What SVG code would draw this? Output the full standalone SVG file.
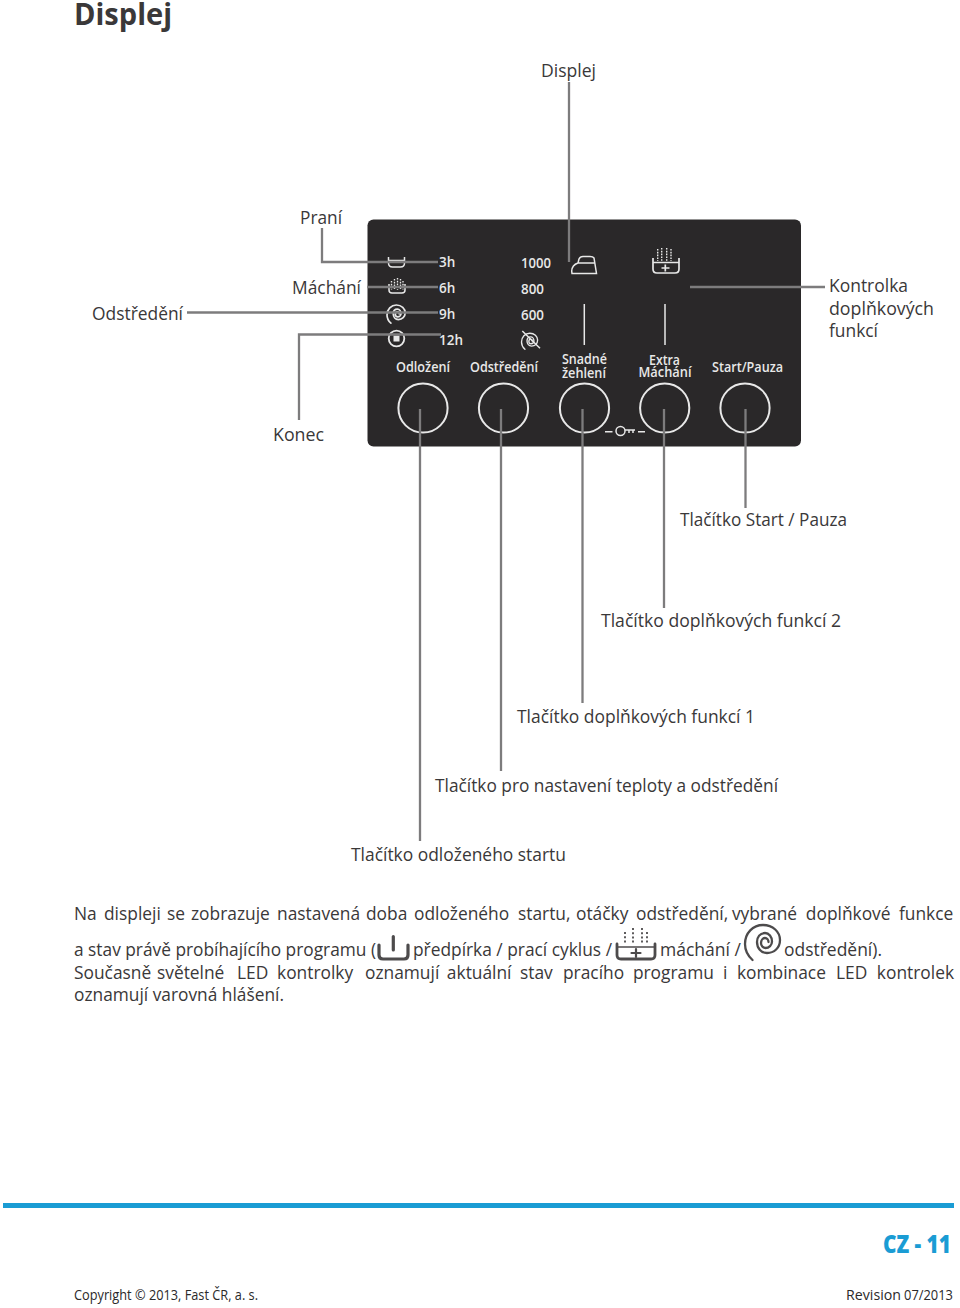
<svg xmlns="http://www.w3.org/2000/svg" width="960" height="1308" viewBox="0 0 960 1308">
<style>
text{font-family:"Open Sans","Noto Sans","Liberation Sans",sans-serif;fill:#3a3839}
.l,.b{font-size:18px}
.p{font-weight:600;font-size:13.5px;fill:#e8e8e8}
.c{fill:none;stroke:#7d7c7d;stroke-width:2.3}
.w{fill:none;stroke:#e8e8e8;stroke-width:1.5}
.o{stroke-width:2}
.ib{fill:none;stroke:#4d4b4c;stroke-width:3.2;stroke-linecap:round}
.d{stroke-dasharray:2 2.2;stroke-width:1.8;stroke-linecap:butt}
.dw{stroke-dasharray:1.6 1.2;stroke-linecap:butt;stroke-width:1.4}
.f{font-size:14.5px;fill:#2b2a2a}
</style>
<defs>
<path id="spiral" fill="none" stroke-linecap="round" d="M752.500 960C747 955 745 950 745 944C745 933 753 925 763 925C773 925 780 932 780 940C780 948 774 953 767 953C761 953 757 948 757 942C757 937 760 933 765 933C769 933 772 937 772 941.500C772 945 769 948 765.500 948C763 948 761 945.500 761 943C761 940 763 938 765 938C767 938 768.500 940 768.500 942"/>
</defs>
<rect width="960" height="1308" fill="#fff"/>
<text id="title" x="74" y="25" font-size="30" font-weight="700" textLength="98" lengthAdjust="spacingAndGlyphs">Displej</text>
<g id="panel">
<rect x="367.500" y="219.500" width="433.500" height="227" rx="6" fill="#2a2829"/>
<circle cx="423" cy="408" r="24.600" class="w o"/>
<circle cx="503.500" cy="408" r="24.600" class="w o"/>
<circle cx="584.500" cy="408" r="24.600" class="w o"/>
<circle cx="664.700" cy="408" r="24.600" class="w o"/>
<circle cx="745" cy="408" r="24.600" class="w o"/>
<line x1="584.300" y1="304" x2="584.300" y2="345" class="w"/>
<line x1="665" y1="304" x2="665" y2="345" class="w"/>
<text class="p" x="439" y="267">3h</text>
<text class="p" x="439" y="293">6h</text>
<text class="p" x="439" y="319">9h</text>
<text class="p" x="439" y="345">12h</text>
<text class="p" x="521" y="268" textLength="30" lengthAdjust="spacingAndGlyphs">1000</text>
<text class="p" x="521" y="294" textLength="23" lengthAdjust="spacingAndGlyphs">800</text>
<text class="p" x="521" y="320" textLength="23" lengthAdjust="spacingAndGlyphs">600</text>
<text class="p" x="396" y="372" textLength="54" lengthAdjust="spacingAndGlyphs">Odložení</text>
<text class="p" x="470" y="372" textLength="68" lengthAdjust="spacingAndGlyphs">Odstředění</text>
<text class="p" x="562" y="364" textLength="45" lengthAdjust="spacingAndGlyphs">Snadné</text>
<text class="p" x="562" y="378" textLength="44" lengthAdjust="spacingAndGlyphs">žehlení</text>
<text class="p" x="649" y="365" textLength="31" lengthAdjust="spacingAndGlyphs">Extra</text>
<text class="p" x="638.500" y="377" textLength="53" lengthAdjust="spacingAndGlyphs">Máchání</text>
<text class="p" x="712" y="372" textLength="71" lengthAdjust="spacingAndGlyphs">Start/Pauza</text>
<path class="w" d="M388.500 257v6q0 4 4 4h8q4 0 4-4v-6M388.500 260.500h16"/>
<path class="w" d="M389 284v6q0 3 3 3h10q3 0 3-3v-6"/>
<path class="w dw" d="M391.500 281v9M394.500 279v11M397.500 278v12M400.500 279v11M403 281v9"/>
<use href="#spiral" transform="translate(-.4 -176) scale(.52)" stroke="#e8e8e8" stroke-width="3.300"/>
<circle cx="396.500" cy="338.500" r="7.800" class="w" style="stroke-width:1.800"/>
<rect x="393.500" y="335.500" width="6" height="6" fill="#e8e8e8"/>
<use href="#spiral" transform="translate(178.800 -92.300) scale(.46)" stroke="#e8e8e8" stroke-width="3"/>
<path class="w" d="M522.300 331L540 348.300"/>
<path class="w" d="M572 273.500H596.500L594 258Q593 256.500 590 256.500H583Q580 256.500 579 259L578 263Q572 265 571.700 271ZM578.500 263H595"/>
<path class="w" style="stroke-width:1.700" d="M653 258v11q0 4 4 4h18q4 0 4-4v-11M653 262.500h26M665.300 264.500v7M661.500 268h8"/>
<path class="w dw" d="M657.700 249v12M661.700 248v13M666.700 248v13M671 249v12"/>
<path class="w" d="M605 431.700h7.500M638 431.700h7"/>
<circle cx="620.500" cy="431" r="4.500" class="w"/>
<path class="w" d="M625 430h10M629 430v3M633 430v3"/>
</g>
<g id="connectors">
<path class="c" d="M569 82V262"/>
<path class="c" d="M322 228V262H438"/>
<path class="c" d="M367 287H438"/>
<path class="c" d="M187 312.500H438"/>
<path class="c" d="M299 420V334.500H441"/>
<path class="c" d="M690 287H825"/>
<path class="c" d="M420 409V841"/>
<path class="c" d="M501 409V771"/>
<path class="c" d="M582.500 409V703"/>
<path class="c" d="M664 409V608"/>
<path class="c" d="M745.500 409V508"/>
</g>
<g id="labels">
<text class="l" x="541" y="77" textLength="55" lengthAdjust="spacingAndGlyphs">Displej</text>
<text class="l" x="300" y="224" textLength="42" lengthAdjust="spacingAndGlyphs">Praní</text>
<text class="l" x="292" y="294" textLength="69" lengthAdjust="spacingAndGlyphs">Máchání</text>
<text class="l" x="92" y="320" textLength="91" lengthAdjust="spacingAndGlyphs">Odstředění</text>
<text class="l" x="273" y="441" textLength="51" lengthAdjust="spacingAndGlyphs">Konec</text>
<text class="l" x="829" y="292" textLength="79" lengthAdjust="spacingAndGlyphs">Kontrolka</text>
<text class="l" x="829" y="315" textLength="105" lengthAdjust="spacingAndGlyphs">doplňkových</text>
<text class="l" x="829" y="337" textLength="49" lengthAdjust="spacingAndGlyphs">funkcí</text>
<text class="l" x="680" y="526" textLength="167" lengthAdjust="spacingAndGlyphs">Tlačítko Start / Pauza</text>
<text class="l" x="601" y="627" textLength="240" lengthAdjust="spacingAndGlyphs">Tlačítko doplňkových funkcí 2</text>
<text class="l" x="517" y="723" textLength="238" lengthAdjust="spacingAndGlyphs">Tlačítko doplňkových funkcí 1</text>
<text class="l" x="435" y="792" textLength="343" lengthAdjust="spacingAndGlyphs">Tlačítko pro nastavení teploty a odstředění</text>
<text class="l" x="351" y="861" textLength="215" lengthAdjust="spacingAndGlyphs">Tlačítko odloženého startu</text>
</g>
<g id="body">
<text class="b" transform="translate(74 920) scale(.965 1)"><tspan x="0">Na </tspan><tspan x="31.100">displeji </tspan><tspan x="96.400">se </tspan><tspan x="121.200">zobrazuje </tspan><tspan x="210.400">nastavená </tspan><tspan x="302.600">doba </tspan><tspan x="352.300">odloženého </tspan><tspan x="460.100">startu, </tspan><tspan x="520.200">otáčky </tspan><tspan x="582.400">odstředění, </tspan><tspan x="681.800">vybrané </tspan><tspan x="758.400">doplňkové </tspan><tspan x="854.900">funkce</tspan></text>
<text class="b" x="74" y="956" textLength="302" lengthAdjust="spacingAndGlyphs">a stav právě probíhajícího programu (</text>
<text class="b" x="413" y="956" textLength="199" lengthAdjust="spacingAndGlyphs">předpírka / prací cyklus /</text>
<text class="b" x="660" y="956" textLength="81" lengthAdjust="spacingAndGlyphs">máchání /</text>
<text class="b" x="784" y="956" textLength="98" lengthAdjust="spacingAndGlyphs">odstředění).</text>
<text class="b" transform="translate(74 979) scale(.965 1)"><tspan x="0">Současně </tspan><tspan x="86">světelné </tspan><tspan x="168.900">LED </tspan><tspan x="210.400">kontrolky </tspan><tspan x="301.500">oznamují </tspan><tspan x="386.400">aktuální </tspan><tspan x="462.200">stav </tspan><tspan x="506.700">pracího </tspan><tspan x="579.200">programu </tspan><tspan x="672.500">i </tspan><tspan x="687">kombinace </tspan><tspan x="789.700">LED </tspan><tspan x="832">kontrolek</tspan></text>
<text class="b" x="74" y="1001" textLength="210" lengthAdjust="spacingAndGlyphs">oznamují varovná hlášení.</text>
<path class="ib" d="M379 945v10q0 4 4 4h21q4 0 4-4v-10M393.300 936.500v13.500"/>
<path class="ib" style="stroke-width:2.800" d="M617 944v11q0 4 4 4h30q4 0 4-4v-11"/>
<path class="ib" style="stroke-width:1.600" d="M617 947h38"/>
<path class="ib" style="stroke-width:2.200" d="M636 949v8M631.500 953h9"/>
<path class="ib d" d="M625 932v12M633 928v16M642 928v16M647 932v12"/>
<use href="#spiral" stroke="#4d4b4c" stroke-width="2.300"/>
</g>
<g id="footer">
<rect x="3" y="1203" width="951" height="5" fill="#1a9cd4"/>
<text x="883" y="1253" font-size="24" font-weight="800" style="fill:#1a9cd4" textLength="68" lengthAdjust="spacingAndGlyphs">CZ - 11</text>
<text class="f" x="74" y="1300" textLength="184" lengthAdjust="spacingAndGlyphs">Copyright © 2013, Fast ČR, a. s.</text>
<text class="f" x="846" y="1300" textLength="55" lengthAdjust="spacingAndGlyphs">Revision</text>
<text class="f" x="904" y="1300" textLength="49" lengthAdjust="spacingAndGlyphs">07/2013</text>
</g>
</svg>
